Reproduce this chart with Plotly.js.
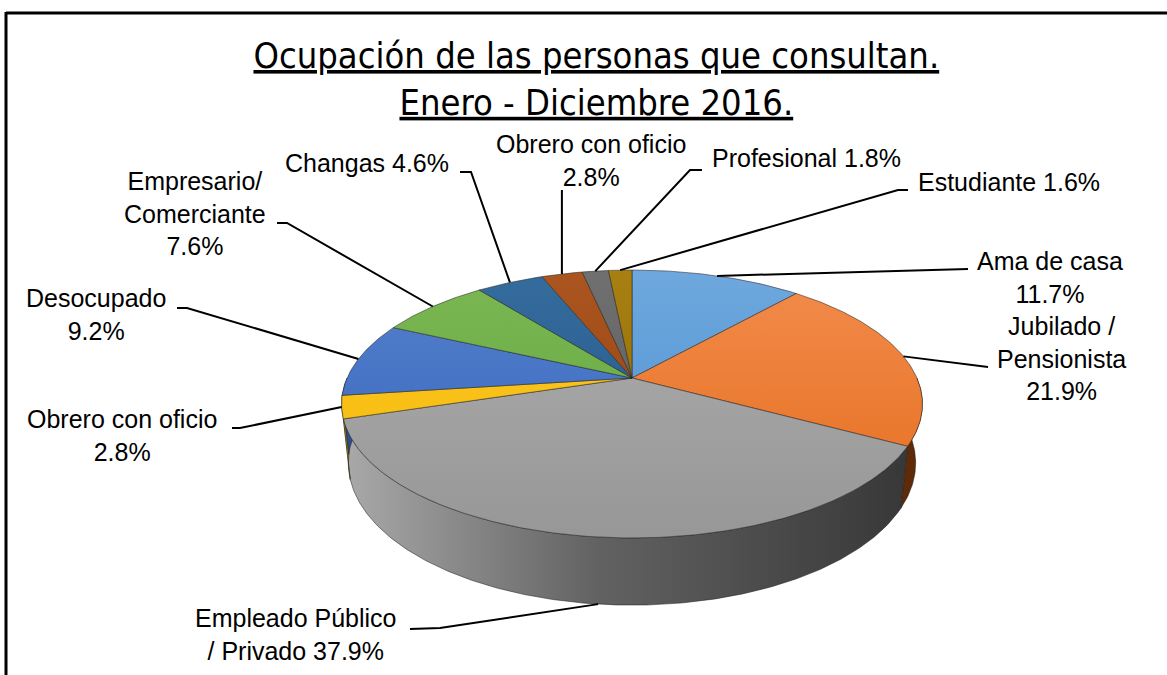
<!DOCTYPE html>
<html>
<head>
<meta charset="utf-8">
<script src="https://cdn.plot.ly/plotly-3.0.1.min.js"></script>
<style>html,body{margin:0;padding:0;background:#fff;}#chart{width:1167px;height:675px;}</style>
</head>
<body>
<div id="chart"></div>
<script>
// ---------------- DATA ----------------
const categories = ['Ama de casa', 'Jubilado / Pensionista', 'Empleado Público / Privado', 'Obrero con oficio',
  'Desocupado', 'Empresario/ Comerciante', 'Changas', 'Obrero con oficio', 'Profesional', 'Estudiante'];
const values = [11.7, 21.9, 37.9, 2.8, 9.2, 7.6, 4.6, 2.8, 1.8, 1.6];
const labelPatterns = ['Ama de casa<br>%v', 'Jubilado /<br>Pensionista<br>%v', 'Empleado Público<br>/ Privado %v',
  'Obrero con oficio<br>%v', 'Desocupado<br>%v', 'Empresario/<br>Comerciante<br>%v', 'Changas %v',
  'Obrero con oficio<br>%v', 'Profesional %v', 'Estudiante %v'];
const titleLines = ['Ocupación de las personas que consultan.', 'Enero - Diciembre 2016.'];

// ---------------- STYLE ----------------
const topColors = [['#6ea8de', '#4c8dcd'], ['#f28c4c', '#e56c1c'], ['#adadad', '#979797'], ['#ffca2c', '#f2b600'],
  ['#5580cc', '#3464bb'], ['#7bb854', '#62a23a'], ['#356c9e', '#215686'], ['#ab5620', '#933f09'],
  ['#707070', '#595959'], ['#a88012', '#8c6800']];
const wallColors = ['#3f6f9c', '#5e2a08', null, '#b08400', '#2c4f8c', '#4f7d30', '#1a4166', '#6b300a', '#444', '#6b5000'];
const grayWall = [[0, '#a9a9a9'], [0.45, '#626262'], [1, '#383838']];
const labelPos = [[1050, 277], [1061, 358], [296, 634], [122, 435], [96, 314], [195, 213], [367, 163], [591, 160], [806, 158], [1009, 182]];
// null x in a leader end = keep the leader vertical above its slice
const leaderEnds = [[[968, 269]], [[988, 367]], [[440, 628], [410, 629]], [[240, 428], [232, 428]], [[187, 308], [177, 308]],
  [[287, 223], [277, 223]], [[471, 172], [460, 172]], [[null, 190]], [[690, 170], [702, 170]], [[898, 190], [908, 190]]];
const leaderFromBottom = [false, false, true, false, false, false, false, false, false, false];

// ---------------- GEOMETRY (perspective projection of a tilted disc) ----------------
const CX = 632, CY = 378, FOC = 1310, R = 0.2175, SINP = 0.4525, COSP = 0.892, H = 0.0508;
function proj(t, z, rr) {
  const rad = (rr === undefined ? R : rr);
  const X = rad * Math.sin(t), Y = rad * Math.cos(t);
  const depth = 1 + Y * COSP - z * SINP;
  const up = Y * SINP + z * COSP;
  return [CX + FOC * X / depth, CY - FOC * up / depth];
}
function arc(a0, a1, z) {
  const n = Math.max(2, Math.ceil(Math.abs(a1 - a0) / 0.01));
  const pts = [];
  for (let k = 0; k <= n; k++) pts.push(proj(a0 + (a1 - a0) * k / n, z));
  return pts;
}
const total = values.reduce((a, b) => a + b, 0);
const bounds = [];
let cum = 0;
values.forEach(v => { const a0 = cum / total * 2 * Math.PI; cum += v; bounds.push([a0, cum / total * 2 * Math.PI]); });
const apex = proj(0, 0, 0);

const traces = [];
const outline = {color: 'rgba(30,30,30,0.75)', width: 0.7};
// walls (front half only)
bounds.forEach((b, i) => {
  const s = Math.max(b[0], Math.PI / 2), e = Math.min(b[1], 3 * Math.PI / 2);
  if (s >= e) return;
  const pts = arc(s, e, 0).concat(arc(e, s, -H));
  pts.push(pts[0]);
  const tr = {type: 'scatter', mode: 'lines', x: pts.map(p => p[0]), y: pts.map(p => p[1]), fill: 'toself',
    line: outline, hoverinfo: 'skip', showlegend: false};
  if (wallColors[i] === null) {
    tr.fillgradient = {type: 'horizontal', colorscale: grayWall, start: 345, stop: 905};
  } else {
    tr.fillcolor = wallColors[i];
  }
  traces.push(tr);
});
// top faces
bounds.forEach((b, i) => {
  const pts = [apex].concat(arc(b[0], b[1], 0));
  pts.push(apex);
  traces.push({type: 'scatter', mode: 'lines', x: pts.map(p => p[0]), y: pts.map(p => p[1]), fill: 'toself',
    fillgradient: {type: 'vertical', colorscale: [[0, topColors[i][0]], [1, topColors[i][1]]], start: 268, stop: 540},
    line: outline, hoverinfo: 'skip', showlegend: false, name: categories[i]});
});
// leader lines
bounds.forEach((b, i) => {
  const mid = (b[0] + b[1]) / 2;
  const p0 = proj(mid, leaderFromBottom[i] ? -H : 0);
  const pts = [p0].concat(leaderEnds[i].map(q => [q[0] === null ? p0[0] : q[0], q[1]]));
  traces.push({type: 'scatter', mode: 'lines', x: pts.map(p => p[0]), y: pts.map(p => p[1]),
    line: {color: '#000', width: 2}, hoverinfo: 'skip', showlegend: false});
});

const labelFont = {family: 'Liberation Sans, Arial, sans-serif', size: 25, color: '#000'};
const annotations = values.map((v, i) => ({
  x: labelPos[i][0], y: labelPos[i][1], xref: 'x', yref: 'y', showarrow: false,
  text: labelPatterns[i].replace('%v', v.toFixed(1) + '%'), font: labelFont,
  xanchor: 'center', yanchor: 'middle', align: 'center'
}));

const layout = {
  width: 1167, height: 675, autosize: false,
  margin: {l: 0, r: 0, t: 0, b: 0},
  paper_bgcolor: '#fff', plot_bgcolor: '#fff',
  title: {
    text: titleLines.map(s => '<u>' + s + '</u>').join('<br>'),
    x: 0.511, xanchor: 'center', xref: 'paper',
    y: 1 - 68 / 675, yanchor: 'middle', yref: 'container',
    font: {family: 'Liberation Sans Narrow, Arial Narrow, DejaVu Sans Condensed, sans-serif', size: 36, color: '#000'}
  },
  xaxis: {range: [0, 1167], visible: false, fixedrange: true},
  yaxis: {range: [675, 0], visible: false, fixedrange: true},
  showlegend: false,
  annotations: annotations,
  shapes: [
    {type: 'line', xref: 'x', yref: 'y', x0: 6, y0: 13, x1: 1167, y1: 13, line: {color: '#000', width: 3}},
    {type: 'line', xref: 'x', yref: 'y', x0: 6, y0: 12, x1: 6, y1: 675, line: {color: '#000', width: 3}}
  ]
};
Plotly.newPlot('chart', traces, layout, {displayModeBar: false, staticPlot: true});
</script>
</body>
</html>
